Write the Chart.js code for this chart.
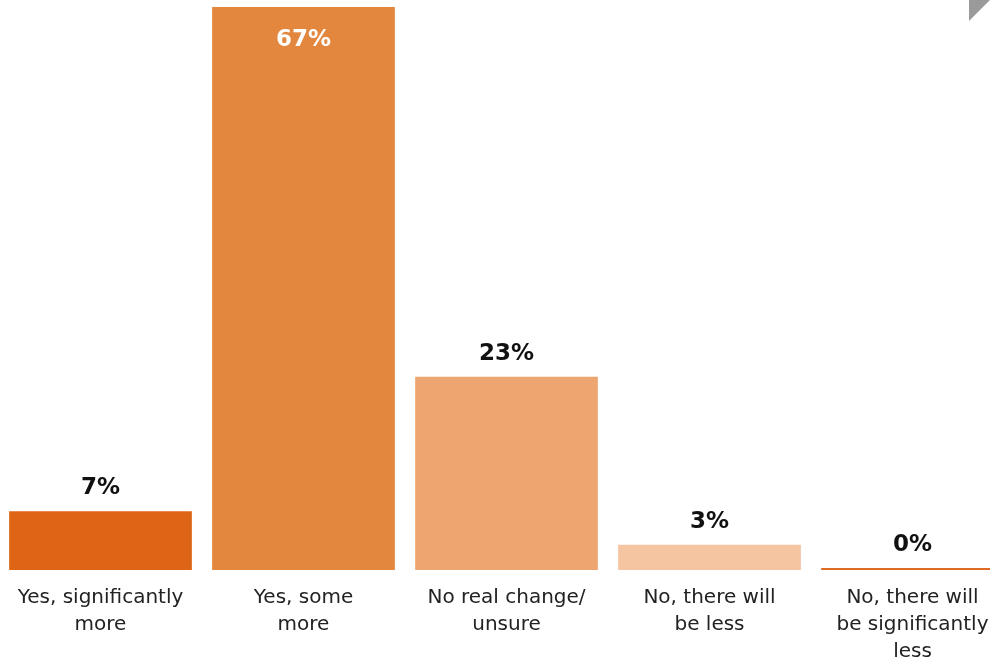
<!DOCTYPE html>
<html>
<head>
<meta charset="utf-8">
<script src="https://cdn.jsdelivr.net/npm/chart.js@4.4.1/dist/chart.umd.min.js"></script>
<style>
  html, body { margin: 0; padding: 0; background: #fff; }
  body { width: 990px; height: 661px; overflow: hidden; position: relative; }
  #wrap { position: absolute; left: -1px; top: 0; width: 1015px; height: 680px; }
  .corner {
    position: absolute; right: 0; top: 0; width: 21px; height: 21px;
    background: #9a9a9a; clip-path: polygon(0 0, 100% 0, 0 100%);
  }
</style>
</head>
<body>
<div id="wrap"><canvas id="bars"></canvas></div>
<div class="corner"></div>
<script>
const categories = [
  ['Yes, significantly', 'more'],
  ['Yes, some', 'more'],
  ['No real change/', 'unsure'],
  ['No, there will', 'be less'],
  ['No, there will', 'be significantly', 'less']
];
const shares = [7, 67, 23, 3, 0];
const barColors = ['#df6516', '#e3873f', '#eda66f', '#f4c5a0', '#df6a24'];

const FONT = '"DejaVu Sans", "Noto Sans", Arial, sans-serif';

// value labels above each bar, or inside when there is no room on top
const valueLabels = {
  id: 'valueLabels',
  afterDatasetsDraw(chart) {
    const ctx = chart.ctx;
    const meta = chart.getDatasetMeta(0);
    ctx.save();
    ctx.font = '600 23px ' + FONT;
    ctx.textAlign = 'center';
    ctx.textBaseline = 'middle';
    meta.data.forEach((bar, i) => {
      const top = Math.min(bar.y, bar.base);
      const text = shares[i] + '%';
      if (top - chart.chartArea.top < 45) {
        ctx.fillStyle = '#ffffff';
        ctx.fillText(text, bar.x, top + 33);
      } else {
        ctx.fillStyle = '#111111';
        ctx.fillText(text, bar.x, top - 23);
      }
    });
    ctx.restore();
  }
};

new Chart(document.getElementById('bars'), {
  type: 'bar',
  data: {
    labels: categories,
    datasets: [{
      data: shares,
      backgroundColor: barColors,
      borderWidth: 0,
      minBarLength: 2,
      categoryPercentage: 0.9,
      barPercentage: 1
    }]
  },
  options: {
    responsive: true,
    maintainAspectRatio: false,
    animation: false,
    layout: { padding: 0 },
    plugins: {
      legend: { display: false },
      tooltip: { enabled: false }
    },
    scales: {
      x: {
        grid: { display: false, drawTicks: false },
        border: { display: false },
        ticks: {
          color: '#222222',
          padding: 14,
          maxRotation: 0,
          autoSkip: false,
          font: { family: FONT, size: 20, lineHeight: 1.35 }
        },
        afterFit(scale) { scale.height = 110; }
      },
      y: {
        display: false,
        min: 0,
        max: 67.83
      }
    }
  },
  plugins: [valueLabels]
});
</script>
</body>
</html>
